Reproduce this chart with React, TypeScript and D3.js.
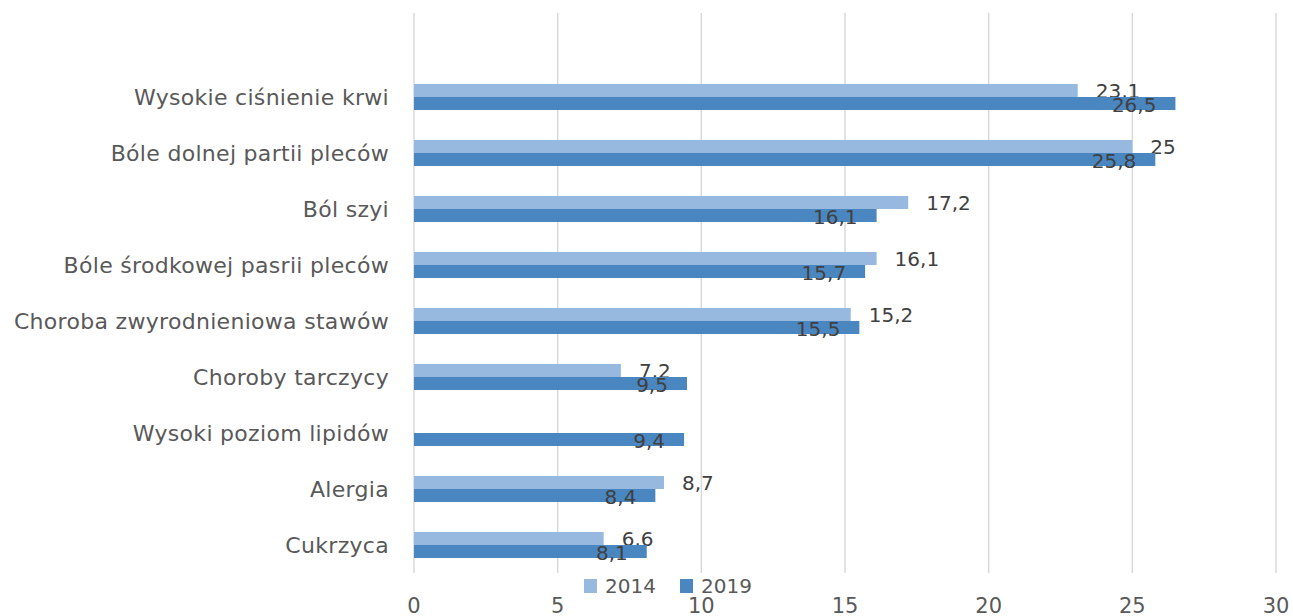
import * as d3 from 'd3';
import { useEffect, useRef } from 'react';

const categories = [
  'Wysokie ciśnienie krwi',
  'Bóle dolnej partii pleców',
  'Ból szyi',
  'Bóle środkowej pasrii pleców',
  'Choroba zwyrodnieniowa stawów',
  'Choroby tarczycy',
  'Wysoki poziom lipidów',
  'Alergia',
  'Cukrzyca',
];
const values2014: (number | null)[] = [23.1, 25, 17.2, 16.1, 15.2, 7.2, null, 8.7, 6.6];
const values2019: (number | null)[] = [26.5, 25.8, 16.1, 15.7, 15.5, 9.5, 9.4, 8.4, 8.1];
const seriesNames = ['2014', '2019'];
const xTicks = [0, 5, 10, 15, 20, 25, 30];

const W = 1293;
const H = 616;
const colors = ['#97b9e0', '#4a86c0'];
const font = '"DejaVu Sans", sans-serif';

const fmt = (v: number) => String(v).replace('.', ',');

const App = () => {
  const ref = useRef<SVGSVGElement>(null);

  useEffect(() => {
    const svg = d3.select(ref.current);
    svg.selectAll('*').remove();

    const x = d3.scaleLinear().domain([0, 30]).range([414, 1276]);
    const y = d3.scaleBand().domain(categories).range([69, 573]).padding(0);
    const barH = 13;

    // gridlines
    svg.append('g')
      .selectAll('line')
      .data(xTicks)
      .enter()
      .append('line')
      .attr('x1', d => x(d))
      .attr('x2', d => x(d))
      .attr('y1', 13)
      .attr('y2', 573)
      .attr('stroke', '#d9d9d9')
      .attr('stroke-width', 1.5);

    // category labels
    svg.append('g')
      .selectAll('text')
      .data(categories)
      .enter()
      .append('text')
      .attr('x', 389)
      .attr('y', d => y(d)! + y.bandwidth() / 2)
      .attr('dy', '0.35em')
      .attr('text-anchor', 'end')
      .attr('font-family', font)
      .attr('font-size', 22)
      .attr('letter-spacing', 0.3)
      .attr('fill', '#595959')
      .text(d => d);

    const series = [values2014, values2019];
    series.forEach((vals, si) => {
      const rows = categories
        .map((c, i) => ({ c, v: vals[i] }))
        .filter(r => r.v !== null) as { c: string; v: number }[];
      const top = (c: string) => y(c)! + y.bandwidth() / 2 - barH + si * barH;

      svg.append('g')
        .selectAll('rect')
        .data(rows)
        .enter()
        .append('rect')
        .attr('x', x(0))
        .attr('y', d => top(d.c))
        .attr('width', d => x(d.v) - x(0))
        .attr('height', barH)
        .attr('fill', colors[si]);

      svg.append('g')
        .selectAll('text')
        .data(rows)
        .enter()
        .append('text')
        .attr('x', d => (si === 0 ? x(d.v) + 18 : x(d.v) - 19))
        .attr('y', d => top(d.c) + barH / 2 + (si === 0 ? 0 : 1.5))
        .attr('dy', '0.35em')
        .attr('text-anchor', si === 0 ? 'start' : 'end')
        .attr('font-family', font)
        .attr('font-size', 20)
        .attr('fill', '#404040')
        .text(d => fmt(d.v));
    });

    // x tick labels
    svg.append('g')
      .selectAll('text')
      .data(xTicks)
      .enter()
      .append('text')
      .attr('x', d => x(d))
      .attr('y', 613)
      .attr('text-anchor', 'middle')
      .attr('font-family', font)
      .attr('font-size', 21)
      .attr('fill', '#595959')
      .text(d => String(d));

    // legend
    const legendX = [584, 680];
    const legend = svg.append('g');
    seriesNames.forEach((name, i) => {
      legend.append('rect')
        .attr('x', legendX[i])
        .attr('y', 579)
        .attr('width', 13)
        .attr('height', 14)
        .attr('fill', colors[i]);
      legend.append('text')
        .attr('x', legendX[i] + 21)
        .attr('y', 586)
        .attr('dy', '0.35em')
        .attr('font-family', font)
        .attr('font-size', 20)
        .attr('fill', '#595959')
        .text(name);
    });
  }, []);

  return (
    <svg
      ref={ref}
      width={W}
      height={H}
      style={{ position: 'absolute', left: 0, top: 0, background: '#fff' }}
    />
  );
};

export default App;
